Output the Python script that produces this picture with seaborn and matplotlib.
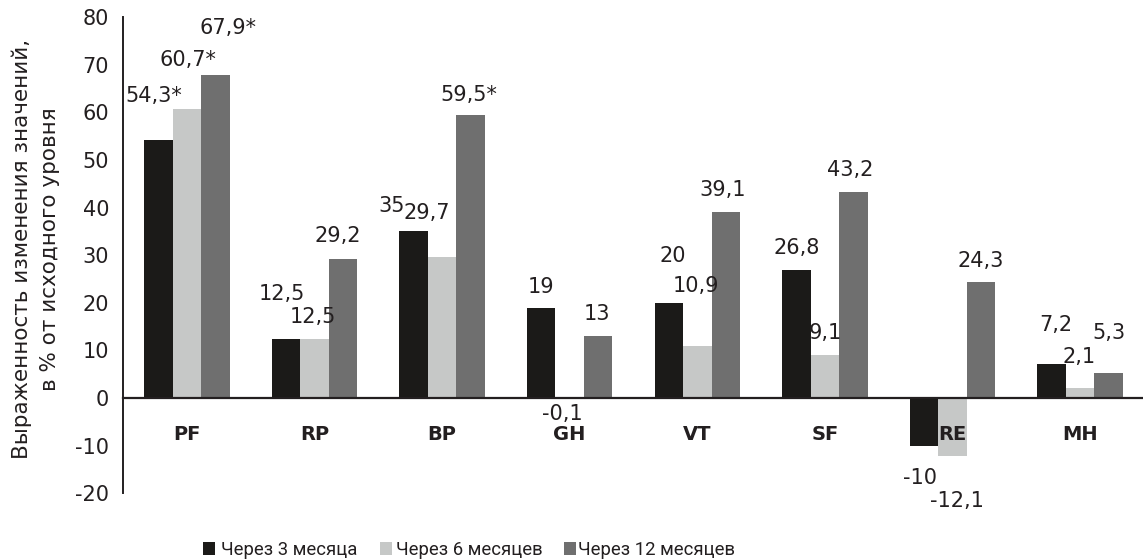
import numpy as np
import pandas as pd
import matplotlib
matplotlib.use("Agg")
import matplotlib.pyplot as plt
from matplotlib.patches import Patch
import seaborn as sns

# SF-36 scales and follow-up periods
scales = ["PF", "RP", "BP", "GH", "VT", "SF", "RE", "MH"]
periods = ["Через 3 месяца", "Через 6 месяцев", "Через 12 месяцев"]

# change vs. baseline, %
after_3m = [54.3, 12.5, 35, 19, 20, 26.8, -10, 7.2]
after_6m = [60.7, 12.5, 29.7, -0.1, 10.9, 9.1, -12.1, 2.1]
after_12m = [67.9, 29.2, 59.5, 13, 39.1, 43.2, 24.3, 5.3]

# statistically significant changes (marked with *)
signif_3m = [True, False, False, False, False, False, False, False]
signif_6m = [True, False, False, False, False, False, False, False]
signif_12m = [True, False, True, False, False, False, False, False]

y_ticks = list(range(-20, 81, 10))
y_title = "Выраженность изменения значений,\nв % от исходного уровня"

# styling
colors = ["#1b1a18", "#c6c8c7", "#6f6f6f"]
ink = "#231f20"
DPI = 100

# hand-placed value-label offsets (pixels: dx, dy from bar end)
shift_3m = [(-5, 45.5), (-4, 46.5), (-21.5, 27.4), (0, 22.6), (3.5, 48.8), (0, 24.4), (-4, -30.4), (4, 41.2)]
shift_6m = [(1, 51.5), (-1.5, 23.5), (-15, 45.6), (-7.5, -13.5), (-1.3, 62), (0, 24.2), (4, -43.4), (-1, 33)]
shift_12m = [(12.5, 49), (-5, 25), (-1.5, 22), (-1.5, 24), (-3, 24.4), (-3.5, 24.4), (0, 23.6), (0.5, 41.3)]

df = pd.DataFrame({
    "scale": np.tile(scales, len(periods)),
    "period": np.repeat(periods, len(scales)),
    "value": after_3m + after_6m + after_12m,
})

sns.set_style("white")
plt.rcParams["font.family"] = ["DejaVu Sans"]
plt.rcParams["axes.unicode_minus"] = False

W, H = 1143, 560
fig = plt.figure(figsize=(W / DPI, H / DPI), dpi=DPI)
left, right, top, bottom = 123, 1144, 17.3, 493.2
ax = fig.add_axes([left / W, 1 - bottom / H, (right - left) / W, (bottom - top) / H])

sns.barplot(
    data=df, x="scale", y="value", hue="period",
    order=scales, hue_order=periods, palette=colors,
    width=0.67, gap=0, saturation=1, errorbar=None,
    linewidth=0, legend=False, ax=ax,
)
# tick labels sit above the bars (RE label overlaps the negative bars)
ax.set_axisbelow(False)

ax.set_xlim(-0.5, len(scales) - 0.5)
ax.set_ylim(y_ticks[0], y_ticks[-1])
ax.set_xlabel("")
ax.set_ylabel(y_title, fontsize=15.5, color=ink, linespacing=1.5)
ax.yaxis.label.set_verticalalignment("center")
ax.yaxis.set_label_coords((36 - left) / (right - left), (bottom - 249) / (bottom - top))

for side in ("top", "right"):
    ax.spines[side].set_visible(False)
ax.spines["left"].set_linewidth(1.4)
ax.spines["left"].set_color(ink)
ax.spines["bottom"].set_linewidth(1.6)
ax.spines["bottom"].set_color(ink)
ax.spines["bottom"].set_position(("data", 0))

ax.set_yticks(y_ticks)
ax.tick_params(axis="y", direction="out", length=4.5, width=1.2, pad=5.5,
               labelsize=15, color=ink, labelcolor=ink)

ax.set_xticks(range(len(scales)))
ax.set_xticklabels(scales, fontweight="bold")
ax.set_xticks(np.arange(0.5, len(scales) - 0.5, 1), minor=True)
ax.tick_params(axis="x", which="major", length=0, pad=19.5, labelsize=14, labelcolor=ink)
ax.tick_params(axis="x", which="minor", direction="out", length=6, width=1.2, color=ink)


def fmt(v):
    return f"{v:g}".replace(".", ",")


px = 72 / DPI
series = [(after_3m, signif_3m, shift_3m), (after_6m, signif_6m, shift_6m), (after_12m, signif_12m, shift_12m)]
for container, (vals, stars, shifts) in zip(ax.containers, series):
    for bar, v, s, (dx, dy) in zip(container, vals, stars, shifts):
        xc = bar.get_x() + bar.get_width() / 2
        ax.annotate(fmt(v) + ("*" if s else ""), (xc, v),
                    xytext=(dx * px, dy * px), textcoords="offset points",
                    ha="center", va="center_baseline", fontsize=15, color=ink)

# legend: one entry per period, laid out along the bottom
legend_x = [203.4, 379.8, 564]
legend_gap = [0.32, 0.24, 0.09]
for name, c, x, gap in zip(periods, colors, legend_x, legend_gap):
    fig.legend(handles=[Patch(facecolor=c, edgecolor="none")], labels=[name],
               loc="center left", bbox_to_anchor=(x / W, 1 - 550 / H),
               frameon=False, prop={"family": "Roboto", "size": 13.3}, labelcolor=ink,
               handlelength=0.65, handleheight=0.65, handletextpad=gap,
               borderpad=0, borderaxespad=0)

fig.savefig("out.png", dpi=DPI)
